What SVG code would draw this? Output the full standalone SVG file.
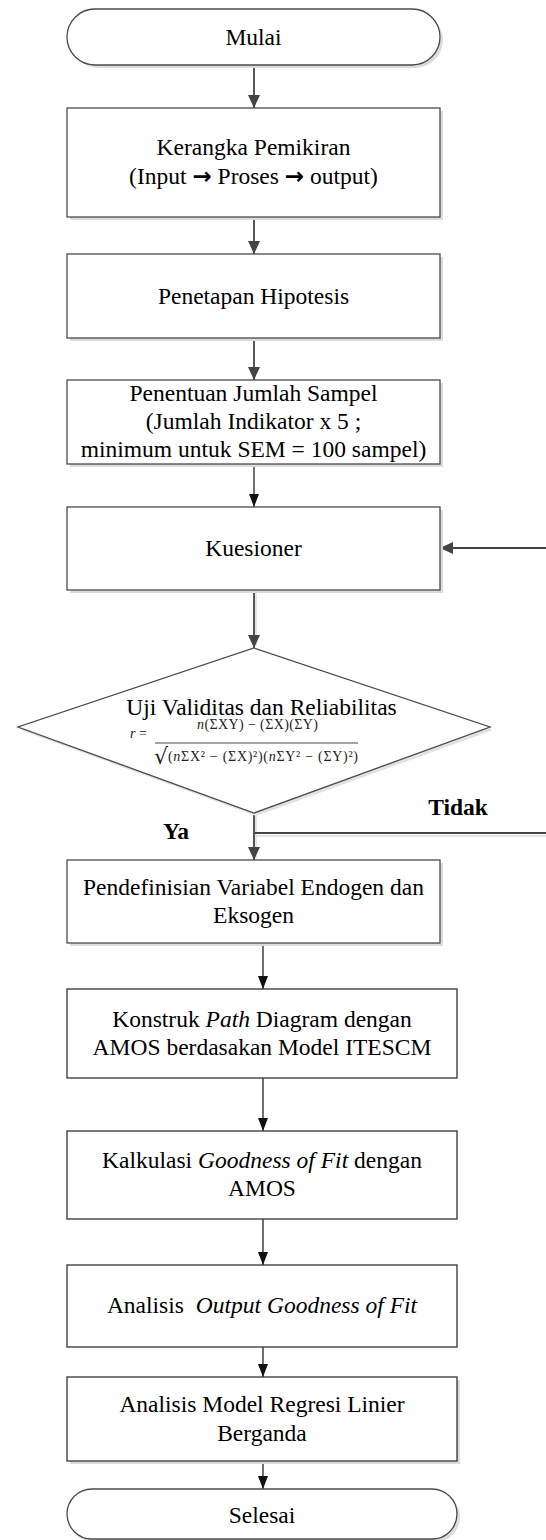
<svg xmlns="http://www.w3.org/2000/svg" width="546" height="1540" viewBox="0 0 546 1540">
<style>
.bg{fill:#fff}
.sh{fill:#dcdcdc}
.box{fill:#fff;stroke:#4a4a4a;stroke-width:1.3}
.boxk{fill:#fff;stroke:#333;stroke-width:1.3}
.t{font-family:"Liberation Serif","Times New Roman",serif;font-size:23.5px;fill:#000;text-anchor:middle}
.b{font-weight:bold}
.ar{font-family:"DejaVu Sans",sans-serif;font-weight:bold;font-size:23px}
.f{font-family:"Liberation Serif","Times New Roman",serif;font-size:14px;fill:#222}
.cg{fill:none;stroke:#444;stroke-width:1.8}
.ck{fill:none;stroke:#111;stroke-width:1.2}
</style>
<defs>
<marker id="ag" markerUnits="userSpaceOnUse" markerWidth="13" markerHeight="12" refX="13" refY="6" orient="auto"><path d="M0,0 L13,6 L0,12 z" fill="#444"/></marker>
<marker id="ak" markerUnits="userSpaceOnUse" markerWidth="13" markerHeight="10" refX="13" refY="5" orient="auto"><path d="M0,0 L13,5 L0,10 z" fill="#111"/></marker>
</defs>
<rect class="bg" x="0" y="0" width="546" height="1540"/>

<g id="connectors">
<path class="cg" d="M254,65 V108" marker-end="url(#ag)"/>
<path class="cg" d="M254,217 V254" marker-end="url(#ag)"/>
<path class="cg" d="M254,338 V380" marker-end="url(#ag)"/>
<path class="ck" d="M254,464 V507" marker-end="url(#ak)"/>
<path d="M256,590 V646" fill="none" stroke="#ddd" stroke-width="1.5"/>
<path class="cg" d="M254,590 V648" marker-end="url(#ag)"/>
<path d="M256,815 V858" fill="none" stroke="#ddd" stroke-width="1.5"/>
<path class="cg" d="M254,813 V860" marker-end="url(#ag)"/>
<path d="M256,836 H546" fill="none" stroke="#ddd" stroke-width="1.5"/>
<path class="cg" d="M254,833 H560 V548 H440" marker-end="url(#ag)"/>
<path class="ck" d="M263,943 V989" marker-end="url(#ak)"/>
<path class="ck" d="M263,1078 V1131" marker-end="url(#ak)"/>
<path class="ck" d="M263,1219 V1265" marker-end="url(#ak)"/>
<path class="ck" d="M263,1347 V1377" marker-end="url(#ak)"/>
<path class="ck" d="M263,1461 V1489" marker-end="url(#ak)"/>
<text class="t b" x="458" y="815">Tidak</text>
<text class="t b" x="176" y="839">Ya</text>
</g>

<g id="mulai">
<rect class="sh" x="70" y="12" width="373" height="56" rx="28"/>
<rect class="box" x="67" y="9" width="373" height="56" rx="28"/>
<text class="t" x="253.5" y="45">Mulai</text>
</g>

<g id="kerangka">
<rect class="sh" x="70" y="111" width="373" height="109"/>
<rect class="box" x="67" y="108" width="373" height="109"/>
<text class="t" x="253.5" y="155">Kerangka Pemikiran</text>
<text class="t" x="253.5" y="184">(Input <tspan class="ar">→</tspan> Proses <tspan class="ar">→</tspan> output)</text>
</g>

<g id="hipotesis">
<rect class="sh" x="70" y="257" width="373" height="84"/>
<rect class="box" x="67" y="254" width="373" height="84"/>
<text class="t" x="253.5" y="304">Penetapan Hipotesis</text>
</g>

<g id="sampel">
<rect class="sh" x="70" y="383" width="373" height="84"/>
<rect class="box" x="67" y="380" width="373" height="84"/>
<text class="t" x="253.5" y="401">Penentuan Jumlah Sampel</text>
<text class="t" x="253.5" y="429">(Jumlah Indikator x 5 ;</text>
<text class="t" x="253.5" y="457">minimum untuk SEM = 100 sampel)</text>
</g>

<g id="kuesioner">
<rect class="sh" x="70" y="510" width="373" height="83"/>
<rect class="box" x="67" y="507" width="373" height="83"/>
<text class="t" x="253.5" y="556">Kuesioner</text>
</g>

<g id="uji">
<path d="M256,651 L493,730 L256,816 L21,730 z" fill="#e2e2e2"/>
<path d="M254,648 L490,727 L254,813 L18,727 z" fill="#fff" stroke="#4a4a4a" stroke-width="1.3"/>
<text class="t" x="261.5" y="715">Uji Validitas dan Reliabilitas</text>
<text class="f" x="130" y="738" font-size="13" font-style="italic">r<tspan font-style="normal"> =</tspan></text>
<text class="f" x="257.5" y="729" text-anchor="middle" textLength="121"><tspan font-style="italic">n</tspan>(ΣXY) − (ΣX)(ΣY)</text>
<line x1="155" y1="743" x2="358" y2="743" stroke="#333" stroke-width="0.9"/>
<text x="154" y="764" font-family="DejaVu Serif, serif" font-size="22" fill="#222">√</text>
<text class="f" x="168" y="761" textLength="190">(<tspan font-style="italic">n</tspan>ΣX² − (ΣX)²)(<tspan font-style="italic">n</tspan>ΣY² − (ΣY)²)</text>
</g>

<g id="pendefinisian">
<rect class="sh" x="70" y="863" width="373" height="83"/>
<rect class="box" x="67" y="860" width="373" height="83"/>
<text class="t" x="253.5" y="895">Pendefinisian Variabel Endogen dan</text>
<text class="t" x="253.5" y="923">Eksogen</text>
</g>

<g id="konstruk">
<rect class="boxk" x="67" y="989" width="390" height="89"/>
<text class="t" x="262" y="1027">Konstruk <tspan font-style="italic">Path</tspan> Diagram dengan</text>
<text class="t" x="262" y="1055">AMOS berdasakan Model ITESCM</text>
</g>

<g id="kalkulasi">
<rect class="boxk" x="67" y="1131" width="390" height="88"/>
<text class="t" x="262" y="1168">Kalkulasi <tspan font-style="italic">Goodness of Fit</tspan> dengan</text>
<text class="t" x="262" y="1196">AMOS</text>
</g>

<g id="analisis-output">
<rect class="boxk" x="67" y="1265" width="390" height="82"/>
<text class="t" x="262" y="1313">Analisis <tspan dx="6" font-style="italic">Output Goodness of Fit</tspan></text>
</g>

<g id="analisis-model">
<rect class="sh" x="70" y="1380" width="390" height="84"/>
<rect class="boxk" x="67" y="1377" width="390" height="84"/>
<text class="t" x="262" y="1412">Analisis Model Regresi Linier</text>
<text class="t" x="262" y="1441">Berganda</text>
</g>

<g id="selesai">
<rect class="sh" x="70" y="1492" width="390" height="50" rx="25"/>
<rect class="box" x="67" y="1489" width="390" height="50" rx="25"/>
<text class="t" x="262" y="1523">Selesai</text>
</g>
</svg>
